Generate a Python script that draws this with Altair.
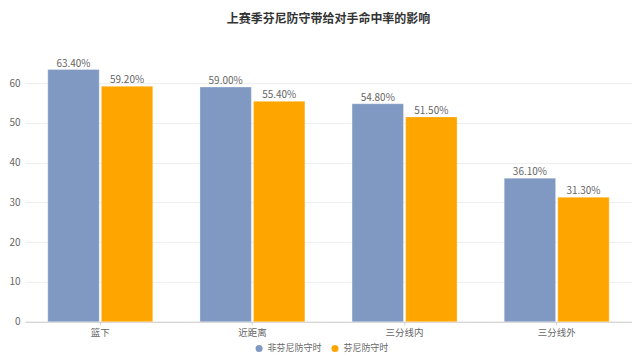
import altair as alt
import pandas as pd

categories = ["篮下", "近距离", "三分线内", "三分线外"]
series = ["非芬尼防守时", "芬尼防守时"]
non_finney = [63.4, 59.0, 54.8, 36.1]
finney = [59.2, 55.4, 51.5, 31.3]
colors = ["#7f99c2", "#ffa500"]

rows = []
for c, a, b in zip(categories, non_finney, finney):
    rows.append({"cat": c, "series": series[0], "value": a})
    rows.append({"cat": c, "series": series[1], "value": b})
df = pd.DataFrame(rows)

font = "Noto Sans CJK SC"

x = alt.X("cat:N", sort=categories, title=None,
          scale=alt.Scale(paddingInner=0.31, paddingOuter=0.15),
          axis=alt.Axis(labelAngle=0, ticks=True, tickSize=3, tickColor="#cccccc",
                        domainColor="#cccccc",
                        labelColor="#666666", labelFontSize=9.5, labelFont=font,
                        labelPadding=3, grid=False))
xo = alt.XOffset("series:N", sort=series, scale=alt.Scale(paddingInner=0.04))
y = alt.Y("value:Q", title=None,
          scale=alt.Scale(domain=[0, 66], nice=False),
          axis=alt.Axis(values=[0, 10, 20, 30, 40, 50, 60], ticks=False, domain=False,
                        labelColor="#666666", labelFontSize=10, labelFont=font,
                        gridColor="#eeeeee", labelPadding=5))

base = alt.Chart(df).encode(x=x, xOffset=xo)

bars = base.mark_bar(stroke="white", strokeWidth=0.6, strokeOpacity=0.5).encode(
    y=y,
    color=alt.Color("series:N", sort=series,
                    scale=alt.Scale(domain=series, range=colors),
                    legend=alt.Legend(title=None, orient="none", direction="horizontal",
                                      legendX=230, legendY=285, symbolType="circle",
                                      symbolSize=50, labelFontSize=9, labelFont=font,
                                      labelColor="#666666", columnPadding=8,
                                      symbolStrokeWidth=0, labelOffset=4)),
)

labels = base.transform_calculate(
    label="format(datum.value, '.2f') + '%'"
).mark_text(dy=-6, fontSize=10, color="#666666", font=font).encode(
    y=alt.Y("value:Q"), text="label:N"
)

chart = (bars + labels).properties(
    width=608, height=263,
    title=alt.TitleParams("上赛季芬尼防守带给对手命中率的影响", fontSize=12,
                          fontWeight="bold", color="#333333", font=font,
                          anchor="middle", offset=33),
    autosize=alt.AutoSizeParams(type="none"),
    padding={"left": 17, "top": 51, "right": 0, "bottom": 37},
).configure_view(stroke=None)

chart.save("out.html", embed_options={"renderer": "svg", "actions": False})
